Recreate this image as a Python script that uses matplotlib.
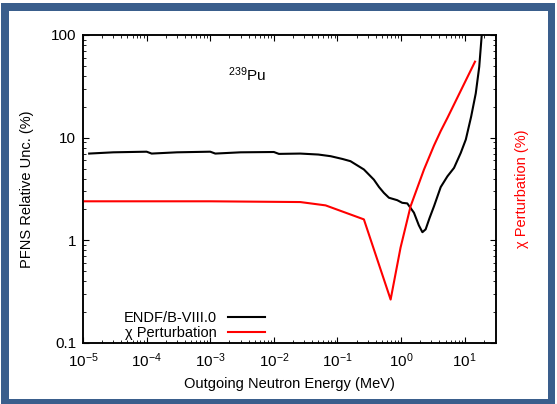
import numpy as np
import matplotlib
matplotlib.use('Agg')
import matplotlib.pyplot as plt
from matplotlib.patches import Rectangle
from matplotlib.ticker import LogLocator, FixedLocator, FixedFormatter, NullFormatter

plt.rcParams['font.family'] = ['Liberation Sans', 'DejaVu Sans']
plt.rcParams['mathtext.fontset'] = 'custom'
plt.rcParams['mathtext.rm'] = 'Liberation Sans'
plt.rcParams['mathtext.it'] = 'Liberation Sans:italic'
plt.rcParams['font.size'] = 10.5

###############################################################################
# Data
###############################################################################
endf_E = [1.25e-5, 3e-5, 1e-4, 1.2e-4, 3e-4, 1e-3, 1.2e-3, 3e-3, 1e-2, 1.2e-2,
          0.026, 0.05, 0.078, 0.12, 0.16, 0.26, 0.373, 0.45, 0.536, 0.643,
          0.87, 1.04, 1.25, 1.59, 1.9, 2.16, 2.43, 2.8, 3.29, 4.19, 5.34,
          6.79, 8.65, 10.4, 12.6, 14.9, 16.9, 18.5, 20.0]
endf_unc = [7.0, 7.2, 7.3, 7.0, 7.2, 7.3, 7.0, 7.2, 7.25, 6.95,
            7.0, 6.85, 6.6, 6.2, 5.9, 4.9, 3.9, 3.3, 2.9, 2.6,
            2.46, 2.32, 2.29, 1.86, 1.4, 1.2, 1.28, 1.65, 2.15, 3.3, 4.2,
            5.08, 7.1, 9.6, 16.0, 27.0, 49.0, 100.0, 150.0]

chi_E = [1e-5, 1e-3, 0.026, 0.065, 0.26, 0.684, 0.98, 1.41, 2.29, 3.29,
         4.19, 5.35, 14.5]
chi_pert = [2.4, 2.4, 2.36, 2.19, 1.6, 0.265, 0.85, 2.15, 4.9, 8.4,
            11.6, 15.6, 55.0]

y_ticks = [0.1, 1, 10, 100]
y_labels = ['0.1', '1', '10', '100']

###############################################################################
# Figure + frame
###############################################################################
W, H = 557, 404
fig = plt.figure(figsize=(W / 100, H / 100), dpi=100)
fig.patch.set_facecolor('white')
fig.patches.append(Rectangle((1 / W, 0), 554 / W, 401 / H, transform=fig.transFigure,
                             facecolor='#3a5e8c', edgecolor='none', zorder=-10))
fig.patches.append(Rectangle((9 / W, 5 / H), 539 / W, 388 / H, transform=fig.transFigure,
                             facecolor='white', edgecolor='none', zorder=-9))

ax = fig.add_axes([83 / W, 61 / H, 413 / W, 308 / H])
ax2 = ax.twinx()

l1, = ax.plot(endf_E, endf_unc, color='black', lw=1.5, label='ENDF/B-VIII.0')
l2, = ax2.plot(chi_E, chi_pert, color='red', lw=1.5, label='χ Perturbation')

for a in (ax, ax2):
    a.set_xscale('log')
    a.set_yscale('log')
    a.set_xlim(1e-5, 31)
    a.set_ylim(0.1, 100)
    a.yaxis.set_major_locator(FixedLocator(y_ticks))
    a.yaxis.set_minor_locator(LogLocator(base=10, subs=np.arange(2, 10)))
    a.yaxis.set_minor_formatter(NullFormatter())
    a.tick_params(which='major', direction='in', length=4, width=0.8)
    a.tick_params(which='minor', direction='in', length=2.2, width=0.6)
    for s in a.spines.values():
        s.set_linewidth(1.1)

ax.yaxis.set_major_formatter(FixedFormatter(y_labels))
ax2.yaxis.set_major_formatter(NullFormatter())
ax.xaxis.set_major_locator(LogLocator(base=10, numticks=12))
ax.xaxis.set_minor_locator(LogLocator(base=10, subs=np.arange(2, 10), numticks=12))
ax.xaxis.set_minor_formatter(NullFormatter())
ax.tick_params(axis='x', which='both', top=True, pad=6)
ax.tick_params(axis='y', pad=5)
ax.tick_params(labelsize=11)

ax.set_xlabel('Outgoing Neutron Energy (MeV)', labelpad=5)
ax.set_ylabel('PFNS Relative Unc. (%)', labelpad=12)
ax2.set_ylabel('χ Perturbation (%)', color='red', labelpad=10)

ax.text(0.352, 0.87, r'$^{239}$Pu', transform=ax.transAxes, fontsize=11,
        ha='left', va='center')

ax.legend(handles=[l1, l2], loc='lower right', bbox_to_anchor=(0.465, -0.025),
          frameon=False, markerfirst=False, handlelength=2.5, handletextpad=0.8,
          labelspacing=0.1, borderpad=0.2, fontsize=10.5)

plt.savefig('out.png', dpi=100, facecolor=fig.get_facecolor())
plt.close()
